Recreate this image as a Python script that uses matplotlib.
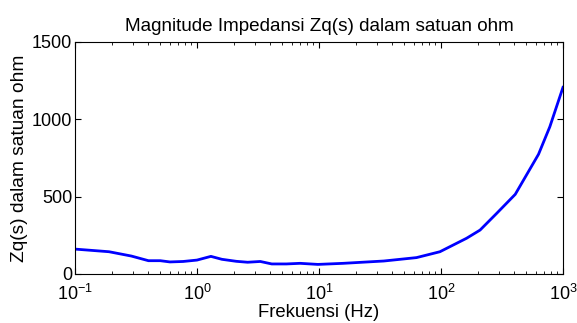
import numpy as np
import matplotlib.pyplot as plt

plt.rcParams['font.family'] = ['Liberation Sans', 'DejaVu Sans']
plt.rcParams['mathtext.default'] = 'regular'

freq = [0.1, 0.19, 0.29, 0.4, 0.5, 0.6, 0.77, 1.0, 1.3, 1.6, 2.1, 2.6, 3.3, 4.1,
        5.4, 7.0, 9.8, 15.8, 34, 63, 98, 162, 209, 286, 406, 630, 780, 1000]
zq = [161, 144, 116, 86, 86, 78, 81, 90, 114, 95, 82, 76, 81, 65,
      65, 69, 62, 69, 84, 106, 144, 231, 284, 392, 515, 774, 952, 1207]

fig = plt.figure(figsize=(5.77, 3.23), dpi=100)
ax = fig.add_axes([75 / 577, 1 - 274 / 323, (563 - 75) / 577, (274 - 42) / 323])
ax.semilogx(freq, zq, color='#0000ff', linewidth=2)
ax.set_xlim(0.1, 1000)
ax.set_ylim(0, 1500)
ax.set_yticks([0, 500, 1000, 1500])
ax.tick_params(which='both', direction='in', top=True, right=True, labelsize=13)
ax.tick_params(which='major', length=4)
ax.tick_params(which='minor', length=2)
ax.tick_params(axis='x', pad=7)
ax.tick_params(axis='y', pad=2)
ax.set_title('Magnitude Impedansi Zq(s) dalam satuan ohm', fontsize=13.6, pad=8)
ax.set_xlabel('Frekuensi (Hz)', fontsize=13.3, labelpad=0)
ax.set_ylabel('Zq(s) dalam satuan ohm', fontsize=13.8, labelpad=3)

fig.savefig('out.png', dpi=100)
